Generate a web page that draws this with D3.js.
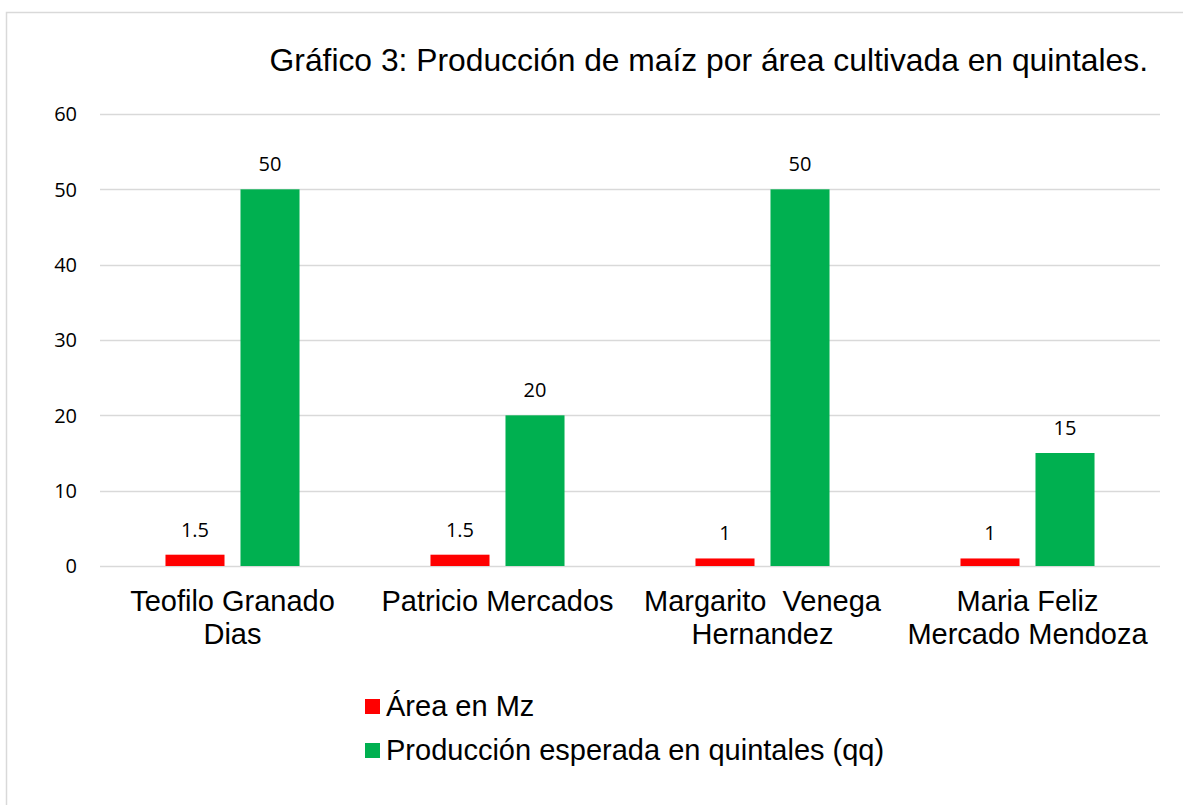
<!DOCTYPE html>
<html>
<head>
<meta charset="utf-8">
<script src="https://cdn.jsdelivr.net/npm/d3@7"></script>
<style>
  body { margin: 0; background: #fff; }
  svg { display: block; }
</style>
</head>
<body>
<svg id="chart" width="1183" height="805"></svg>
<script>
// Data
const categories = [
  ["Teofilo Granado", "Dias"],
  ["Patricio Mercados"],
  ["Margarito  Venega", "Hernandez"],
  ["Maria Feliz", "Mercado Mendoza"]
];
const seriesNames = ["Área en Mz", "Producción esperada en quintales (qq)"];
const seriesColors = ["#ff0000", "#00b050"];
const areaMz = [1.5, 1.5, 1, 1];
const produccionQq = [50, 20, 50, 15];
const yTicks = [0, 10, 20, 30, 40, 50, 60];
const titleText = "Gráfico 3: Producción de maíz por área cultivada en quintales.";

const svg = d3.select("#chart");
const W = 1183, H = 805;
const margin = { left: 100, right: 23, top: 114, bottom: 239 };

// Outer frame
svg.append("rect")
  .attr("x", 6.5).attr("y", 12.5)
  .attr("width", W + 20).attr("height", H + 20)
  .attr("fill", "#fff")
  .attr("stroke", "#d9d9d9")
  .attr("stroke-width", 1.5);

const catKeys = categories.map((c, i) => i);
const x0 = d3.scaleBand()
  .domain(catKeys)
  .range([margin.left, W - margin.right]);

const x1 = d3.scaleBand()
  .domain([0, 1])
  .range([0, x0.bandwidth()])
  .paddingInner(0.213)
  .paddingOuter(0.873);

const y = d3.scaleLinear()
  .domain([0, 60])
  .range([H - margin.bottom, margin.top]);

// Gridlines
svg.append("g")
  .selectAll("line")
  .data(yTicks)
  .join("line")
  .attr("x1", margin.left)
  .attr("x2", W - margin.right)
  .attr("y1", d => Math.round(y(d)) + 0.5)
  .attr("y2", d => Math.round(y(d)) + 0.5)
  .attr("stroke", "#d9d9d9")
  .attr("stroke-width", 1.3);

// Y tick labels
svg.append("g")
  .selectAll("text")
  .data(yTicks)
  .join("text")
  .attr("x", 77)
  .attr("y", d => y(d))
  .attr("dy", "0.36em")
  .attr("text-anchor", "end")
  .style("font-family", "'Open Sans', sans-serif")
  .style("font-size", "20px")
  .style("fill", "#000")
  .text(d => d);

// Bars
const rows = catKeys.map(i => [areaMz[i], produccionQq[i]]);
const groups = svg.append("g")
  .selectAll("g")
  .data(rows)
  .join("g")
  .attr("transform", (d, i) => `translate(${x0(i)},0)`);

groups.selectAll("rect")
  .data(d => d.map((v, s) => ({ v, s })))
  .join("rect")
  .attr("x", d => x1(d.s))
  .attr("width", x1.bandwidth())
  .attr("y", d => y(d.v))
  .attr("height", d => y(0) - y(d.v))
  .attr("fill", d => seriesColors[d.s]);

// Data labels
groups.selectAll("text")
  .data(d => d.map((v, s) => ({ v, s })))
  .join("text")
  .attr("x", d => x1(d.s) + x1.bandwidth() / 2)
  .attr("y", d => y(d.v) - 18)
  .attr("text-anchor", "middle")
  .style("font-family", "'Open Sans', sans-serif")
  .style("font-size", "20px")
  .style("fill", "#000")
  .text(d => d.v);

// Category labels
const catLabels = svg.append("g")
  .selectAll("text")
  .data(categories)
  .join("text")
  .attr("x", (d, i) => x0(i) + x0.bandwidth() / 2)
  .attr("y", 611)
  .attr("text-anchor", "middle")
  .style("font-family", "'Liberation Sans', Arial, sans-serif")
  .style("font-size", "29px")
  .style("fill", "#000")
  .style("white-space", "pre");

catLabels.selectAll("tspan")
  .data(d => d)
  .join("tspan")
  .attr("x", function () { return d3.select(this.parentNode).attr("x"); })
  .attr("dy", (d, i) => i === 0 ? 0 : 33)
  .text(d => d);

// Title
svg.append("text")
  .attr("x", 1148)
  .attr("y", 71)
  .attr("text-anchor", "end")
  .style("font-family", "'Liberation Sans', Arial, sans-serif")
  .style("font-size", "31.8px")
  .style("fill", "#000")
  .text(titleText);

// Legend
const legend = svg.append("g")
  .selectAll("g")
  .data(seriesNames)
  .join("g")
  .attr("transform", (d, i) => `translate(365,${716 + i * 44})`);

legend.append("rect")
  .attr("x", 0)
  .attr("y", -17)
  .attr("width", 15)
  .attr("height", 15)
  .attr("fill", (d, i) => seriesColors[i]);

legend.append("text")
  .attr("x", 21)
  .attr("y", 0)
  .style("font-family", "'Liberation Sans', Arial, sans-serif")
  .style("font-size", "29px")
  .style("fill", "#000")
  .text(d => d);
</script>
</body>
</html>
